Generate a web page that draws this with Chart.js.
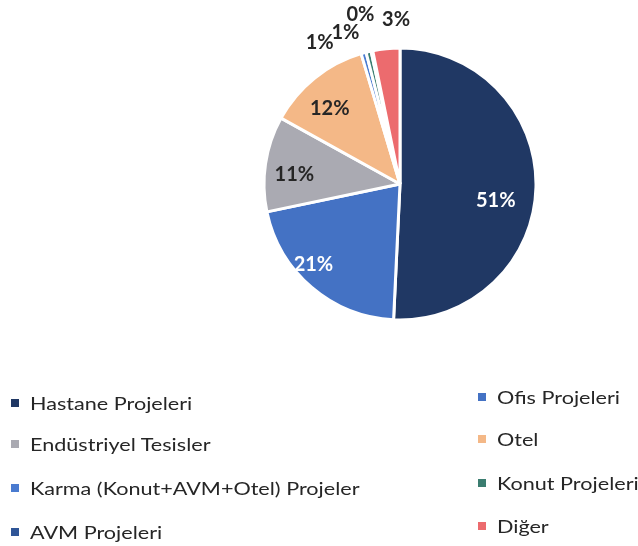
<!DOCTYPE html>
<html>
<head>
<meta charset="utf-8">
<script src="https://cdn.jsdelivr.net/npm/chart.js@4.4.1/dist/chart.umd.min.js"></script>
<style>
  html, body { margin: 0; padding: 0; background: #ffffff; }
  #wrap { position: relative; width: 638px; height: 546px; overflow: hidden; }
  #c { position: absolute; left: 0; top: 0; }
  .lg { position: absolute; display: flex; align-items: center; font-family: Lato, "Open Sans", sans-serif; font-size: 18px; color: #262626; white-space: nowrap; }
  .lg .sq { width: 8px; height: 8px; margin-right: 11px; flex: none; }
  .lg .tx { display: inline-block; transform: scaleX(1.2); transform-origin: 0 50%; }
</style>
</head>
<body>
<div id="wrap">
  <canvas id="c" width="638" height="546"></canvas>
  <div id="legend"></div>
</div>
<script>
// ---- data ----
const categories = [
  "Hastane Projeleri",
  "Ofis Projeleri",
  "Endüstriyel Tesisler",
  "Otel",
  "Karma (Konut+AVM+Otel) Projeler",
  "Konut Projeleri",
  "AVM Projeleri",
  "Diğer"
];
const shares = [50.6, 20.9, 11.3, 12.3, 0.6, 0.6, 0.2, 3.2];
const sliceColors = ["#203864", "#4472C4", "#AAAAB2", "#F4B887", "#4A7BD0", "#3B7D70", "#2F5597", "#EC6B6E"];
const labelColors = ["#ffffff", "#ffffff", "#262626", "#262626", "#262626", "#262626", "#262626", "#262626"];
// label placement: inside (fraction of radius) or outside (pixels beyond radius), plus nudges
const labelInside = [true, true, true, true, false, false, false, false];
const labelNudge = [[-13, 14], [-16, -2], [2, 7], [-2, 9], [-38, 11], [-18, 2], [-7, -15], [12, -7]];

const pctLabels = {
  id: 'pctLabels',
  afterDatasetsDraw(chart) {
    const ctx = chart.ctx;
    const meta = chart.getDatasetMeta(0);
    const data = chart.data.datasets[0].data;
    const total = data.reduce((a, b) => a + b, 0);
    ctx.save();
    ctx.font = "bold 20px Lato, 'Open Sans', sans-serif";
    ctx.textAlign = 'center';
    ctx.textBaseline = 'middle';
    meta.data.forEach((arc, i) => {
      const p = arc.getProps(['x', 'y', 'startAngle', 'endAngle', 'outerRadius'], true);
      const mid = (p.startAngle + p.endAngle) / 2;
      const r = labelInside[i] ? p.outerRadius * 0.8 : p.outerRadius + 22;
      const x = p.x + Math.cos(mid) * r + labelNudge[i][0];
      const y = p.y + Math.sin(mid) * r + labelNudge[i][1];
      ctx.fillStyle = labelColors[i];
      ctx.fillText(Math.round(data[i] / total * 100) + '%', x, y);
    });
    ctx.restore();
  }
};

const chart = new Chart(document.getElementById('c'), {
  type: 'pie',
  data: {
    labels: categories,
    datasets: [{
      data: shares,
      backgroundColor: sliceColors,
      borderColor: '#ffffff',
      borderWidth: 3
    }]
  },
  options: {
    responsive: false,
    animation: false,
    radius: 136,
    layout: { padding: { left: 264, right: 102, top: 48, bottom: 226 } },
    plugins: {
      legend: { display: false },
      tooltip: { enabled: false }
    }
  },
  plugins: [pctLabels]
});

// HTML legend from the chart's own legend items, in two columns
const legendPos = [
  [11, 403], [478, 397],
  [11, 444], [478, 439],
  [11, 488], [478, 483],
  [11, 532], [478, 526]
];
const items = Chart.overrides.pie.plugins.legend.labels.generateLabels(chart);
const lg = document.getElementById('legend');
items.forEach((it, i) => {
  const d = document.createElement('div');
  d.className = 'lg';
  d.style.left = legendPos[i][0] + 'px';
  d.style.top = (legendPos[i][1] - 12) + 'px';
  d.style.height = '24px';
  const sq = document.createElement('span');
  sq.className = 'sq';
  sq.style.background = it.fillStyle;
  const t = document.createElement('span');
  t.className = 'tx';
  t.textContent = it.text;
  d.appendChild(sq);
  d.appendChild(t);
  lg.appendChild(d);
});
</script>
</body>
</html>
